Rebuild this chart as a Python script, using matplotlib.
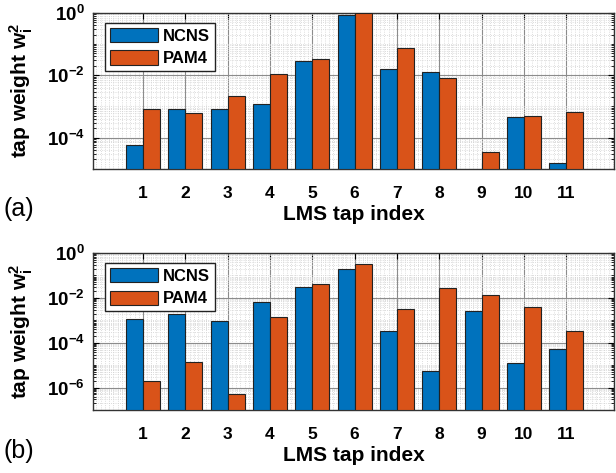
import matplotlib
matplotlib.use('Agg')
import matplotlib.pyplot as plt
import numpy as np
from matplotlib.ticker import FixedLocator, MultipleLocator, NullFormatter

plt.rcParams['font.family'] = ['Liberation Sans', 'DejaVu Sans']
plt.rcParams['mathtext.fontset'] = 'custom'
plt.rcParams['mathtext.rm'] = 'Liberation Sans'
plt.rcParams['mathtext.bf'] = 'Liberation Sans:bold'
plt.rcParams['mathtext.it'] = 'Liberation Sans:italic'

taps = np.arange(1, 12)

# panel (a)
ncns_a = [5.7e-5, 8e-4, 8e-4, 1.17e-3, 0.028, 0.86, 0.016, 0.013, np.nan, 4.6e-4, 1.5e-5]
pam4_a = [8e-4, 6.3e-4, 2.1e-3, 1.08e-2, 0.034, 0.95, 0.076, 0.0084, 3.5e-5, 4.9e-4, 6.6e-4]

# panel (b)
ncns_b = [1.2e-3, 1.9e-3, 9.5e-4, 6.4e-3, 0.031, 0.19, 3.2e-4, 5.7e-6, 2.6e-3, 1.2e-5, 5.2e-5]
pam4_b = [1.9e-6, 1.4e-5, 5.2e-7, 1.4e-3, 0.04, 0.34, 3.3e-3, 0.028, 0.013, 3.9e-3, 3.5e-4]

blue = '#0072BD'
orange = '#D95319'


def panel(ax, ncns, pam4, ymin, label):
    w = 0.4
    # bars start at the bottom of the log axis
    ax.bar(taps - w/2, np.array(ncns) - ymin, w, bottom=ymin, color=blue, edgecolor='#222222',
           linewidth=0.8, label='NCNS', zorder=3)
    ax.bar(taps + w/2, np.array(pam4) - ymin, w, bottom=ymin, color=orange, edgecolor='#222222',
           linewidth=0.8, label='PAM4', zorder=3)
    ax.set_yscale('log')
    ax.set_ylim(ymin, 1)
    ax.set_xlim(-0.18, 12.13)

    exps = np.arange(int(np.log10(ymin)), 1)
    major = [10.0**e for e in exps if e % 2 == 0 and 10.0**e > ymin]
    minor = []
    for e in exps[:-1]:
        for m in range(1, 10):
            v = m * 10.0**e
            if v not in major and v > ymin:
                minor.append(v)
    ax.yaxis.set_major_locator(FixedLocator(major))
    ax.set_yticklabels([r'$\mathbf{10^{%d}}$' % round(np.log10(v)) for v in major])
    ax.yaxis.set_minor_locator(FixedLocator(minor))
    ax.yaxis.set_minor_formatter(NullFormatter())

    ax.set_xticks(taps)
    ax.set_xticklabels([str(t) for t in taps], fontweight='bold')
    ax.xaxis.set_minor_locator(MultipleLocator(0.1))

    ax.grid(which='major', color='#8c8c8c', linewidth=0.8, linestyle='-', zorder=0)
    ax.grid(which='minor', color='#d0d0d0', linewidth=0.6, linestyle=':', zorder=0)
    ax.set_axisbelow(True)

    ax.tick_params(which='both', direction='in', top=True, right=True, labelsize=12.5)
    ax.tick_params(axis='x', pad=12)
    ax.tick_params(axis='y', pad=6, labelsize=13.5)
    ax.tick_params(which='major', length=4, width=0.8)
    ax.tick_params(which='minor', length=2, width=0.6)
    ax.tick_params(axis='x', which='minor', length=0)
    for s in ax.spines.values():
        s.set_linewidth(1.0)
        s.set_color('#333333')

    ax.set_xlabel('LMS tap index', fontsize=15, fontweight='bold', labelpad=3)
    ax.set_ylabel(r'tap weight $\mathbf{w_i^2}$', fontsize=15, fontweight='bold')
    ax.yaxis.set_label_coords(-0.112, 0.5)

    leg = ax.legend(loc='upper left', bbox_to_anchor=(0.023, 0.937), prop={'weight': 'bold', 'size': 12},
                    fancybox=False, edgecolor='#222222', framealpha=1, handlelength=2.9, handleheight=0.95,
                    borderpad=0.3, labelspacing=0.4, handletextpad=0.3, borderaxespad=0)
    leg.get_frame().set_linewidth(1.0)

    ax.text(-0.172, -0.26, label, transform=ax.transAxes, fontsize=18, ha='left', va='center')


fig = plt.figure(figsize=(6.16, 4.73), dpi=100)
ax1 = fig.add_axes([0.151, 0.643, 0.846, 0.330])
ax2 = fig.add_axes([0.151, 0.133, 0.846, 0.332])

panel(ax1, ncns_a, pam4_a, 1e-5, '(a)')
panel(ax2, ncns_b, pam4_b, 1e-7, '(b)')

fig.savefig('out.png', dpi=100)
